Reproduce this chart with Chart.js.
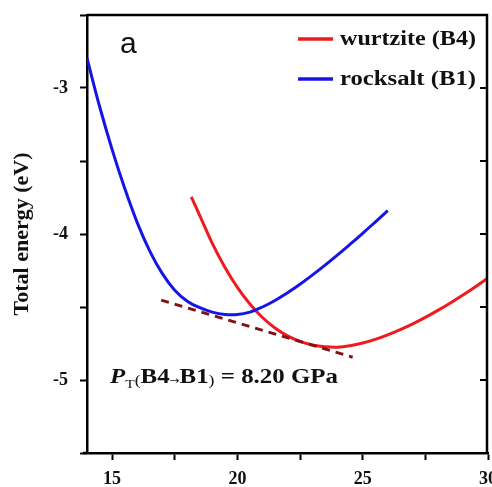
<!DOCTYPE html>
<html>
<head>
<meta charset="utf-8">
<script src="https://cdn.jsdelivr.net/npm/chart.js@4.4.1/dist/chart.umd.min.js"></script>
<style>
  html, body { margin: 0; padding: 0; background: #ffffff; }
  #wrap { width: 492px; height: 487px; position: relative; }
</style>
</head>
<body>
<div id="wrap"><canvas id="chart"></canvas></div>
<script>
// Volume (x) and total energy (eV) of the two phases
const wurtziteV = [18.16, 18.5, 19.0, 19.5, 20.0, 20.5, 21.0, 21.5, 22.0, 22.5, 23.0, 23.5, 24.0, 24.5, 25.0, 25.5, 26.0, 26.5, 27.0, 27.5, 28.0, 28.5, 29.0, 29.5, 30.0];
const wurtziteE = [-3.745, -3.874, -4.064, -4.228, -4.366, -4.48, -4.572, -4.644, -4.698, -4.736, -4.76, -4.772, -4.775, -4.765, -4.747, -4.722, -4.691, -4.655, -4.615, -4.571, -4.523, -4.472, -4.418, -4.361, -4.301];

const rocksaltV = [14.0, 14.5, 15.0, 15.5, 16.0, 16.5, 17.0, 17.5, 18.0, 18.5, 19.0, 19.5, 20.0, 20.5, 21.0, 21.5, 22.0, 22.5, 23.0, 23.5, 24.0, 24.5, 25.0, 25.5, 26.0];
const rocksaltE = [-2.795, -3.125, -3.42, -3.685, -3.92, -4.115, -4.27, -4.385, -4.46, -4.505, -4.535, -4.551, -4.552, -4.535, -4.5, -4.455, -4.402, -4.344, -4.28, -4.213, -4.143, -4.07, -3.995, -3.918, -3.84];

// Common tangent: its slope is the transition pressure
const pressureGPa = 8.20;
const eVperA3toGPa = 160.2177;
const tangentMidV = 20.78;
const tangentMidE = -4.6485;
const tangentHalfSpan = 3.82;
const tangentSlope = -pressureGPa / eVperA3toGPa;
const tangentV = [tangentMidV - tangentHalfSpan, tangentMidV + tangentHalfSpan];
const tangentE = tangentV.map(v => tangentMidE + tangentSlope * (v - tangentMidV));

const xTickMajor = [15, 20, 25, 30];
const yTickMajor = [-5, -4, -3];

const seriesLabels = ['wurtzite (B4)', 'rocksalt (B1)'];
const panelLabel = 'a';

const SERIF = '"Liberation Serif", "Times New Roman", serif';
const SANS = '"Liberation Sans", Arial, sans-serif';
const RED = 'rgb(238, 26, 32)';
const BLUE = 'rgb(22, 22, 228)';
const DARKRED = 'rgb(128, 18, 22)';

const toPoints = (xs, ys) => xs.map((x, i) => ({ x: x, y: ys[i] }));

function stretchText(ctx, str, x, y, sx) {
  ctx.save();
  ctx.translate(x, y);
  ctx.scale(sx, 1);
  ctx.fillText(str, 0, 0);
  ctx.restore();
}

// Closed frame with inward ticks on the right side
const framePlugin = {
  id: 'framePlugin',
  afterDraw(chart) {
    const { ctx, chartArea: a, scales } = chart;
    ctx.save();
    ctx.strokeStyle = '#000';
    ctx.lineWidth = 2.5;
    ctx.beginPath();
    ctx.moveTo(a.left, a.top);
    ctx.lineTo(a.right - 1, a.top);
    ctx.lineTo(a.right - 1, a.bottom);
    ctx.stroke();
    ctx.beginPath();
    ctx.moveTo(a.left - 4, a.bottom);
    ctx.lineTo(a.left, a.bottom);
    ctx.stroke();
    ctx.lineWidth = 2;
    scales.y.ticks.forEach(t => {
      const py = Math.round(scales.y.getPixelForValue(t.value));
      if (py <= a.top + 2 || py >= a.bottom - 2) return;
      ctx.beginPath();
      ctx.moveTo(a.right - 8, py);
      ctx.lineTo(a.right, py);
      ctx.stroke();
    });
    ctx.restore();
  }
};

// Legend in the upper right corner, built from the datasets
const legendPlugin = {
  id: 'cornerLegend',
  afterDraw(chart) {
    const { ctx, chartArea: a } = chart;
    const items = chart.data.datasets.filter(d => d.inLegend);
    ctx.save();
    ctx.font = 'bold 20px ' + SERIF;
    ctx.textBaseline = 'alphabetic';
    ctx.fillStyle = '#111';
    items.forEach((d, i) => {
      const lineY = a.top + 24 + i * 40;
      ctx.strokeStyle = d.borderColor;
      ctx.lineWidth = 3.5;
      ctx.beginPath();
      ctx.moveTo(a.right - 190, lineY);
      ctx.lineTo(a.right - 155, lineY);
      ctx.stroke();
      const w = ctx.measureText(d.label).width;
      stretchText(ctx, d.label, a.right - 148, lineY + 6, 136 / w);
    });
    ctx.restore();
  }
};

// Panel letter and transition-pressure note
const notesPlugin = {
  id: 'notes',
  afterDraw(chart) {
    const { ctx, chartArea: a } = chart;
    ctx.save();
    ctx.fillStyle = '#111';
    ctx.textBaseline = 'alphabetic';
    ctx.font = '30px ' + SANS;
    ctx.fillText(panelLabel, a.left + 33, a.top + 38);

    const runs = [
      { t: 'P', f: 'italic bold 21px ' + SERIF, dy: 0 },
      { t: 'T', f: '13px ' + SERIF, dy: 5 },
      { t: '(', f: '15px ' + SERIF, dy: 2 },
      { t: 'B4', f: 'bold 21px ' + SERIF, dy: 0 },
      { t: '→', f: '10px "DejaVu Sans"', dy: 1 },
      { t: 'B1', f: 'bold 21px ' + SERIF, dy: 0 },
      { t: ')', f: '15px ' + SERIF, dy: 2 },
      { t: ' = ' + pressureGPa.toFixed(2) + ' GPa', f: 'bold 21px ' + SERIF, dy: 0 }
    ];
    let natural = 0;
    runs.forEach(r => { ctx.font = r.f; r.w = ctx.measureText(r.t).width; natural += r.w; });
    const sx = 228 / natural;
    let x = a.left + 23;
    const base = 383;
    runs.forEach(r => {
      ctx.font = r.f;
      stretchText(ctx, r.t, x, base + r.dy, sx);
      x += r.w * sx;
    });
    ctx.restore();
  }
};

new Chart(document.getElementById('chart'), {
  type: 'scatter',
  data: {
    datasets: [
      {
        label: seriesLabels[0],
        inLegend: true,
        data: toPoints(wurtziteV, wurtziteE),
        showLine: true,
        borderColor: RED,
        borderWidth: 3,
        pointRadius: 0,
        tension: 0.4,
        order: 2
      },
      {
        label: seriesLabels[1],
        inLegend: true,
        data: toPoints(rocksaltV, rocksaltE),
        showLine: true,
        borderColor: BLUE,
        borderWidth: 3,
        pointRadius: 0,
        tension: 0.4,
        order: 1
      },
      {
        label: 'common tangent',
        inLegend: false,
        data: toPoints(tangentV, tangentE),
        showLine: true,
        borderColor: DARKRED,
        borderWidth: 3,
        borderDash: [8, 6],
        pointRadius: 0,
        order: 0
      }
    ]
  },
  options: {
    responsive: true,
    maintainAspectRatio: false,
    devicePixelRatio: 1,
    animation: false,
    layout: { padding: { top: 15, right: 4, left: 0, bottom: 0 } },
    plugins: {
      legend: { display: false },
      tooltip: { enabled: false }
    },
    scales: {
      x: {
        type: 'linear',
        min: 14,
        max: 30,
        border: { display: true, color: '#000', width: 2.5 },
        grid: { display: true, drawOnChartArea: false, drawTicks: true, tickLength: 7, tickWidth: 2, tickColor: '#000' },
        ticks: {
          stepSize: 2.5,
          includeBounds: false,
          autoSkip: false,
          maxRotation: 0,
          padding: 9,
          color: '#111',
          font: { family: SERIF, size: 18, weight: 'bold' },
          callback: v => (xTickMajor.includes(v) ? String(v) : '')
        },
        afterFit: s => { s.height = 34; s.paddingLeft = 0; s.paddingRight = 0; }
      },
      y: {
        type: 'linear',
        min: -5.5,
        max: -2.5,
        border: { display: true, color: '#000', width: 2.5 },
        grid: { display: true, drawOnChartArea: false, drawTicks: true, tickLength: 7, tickWidth: 2, tickColor: '#000' },
        ticks: {
          stepSize: 0.5,
          autoSkip: false,
          padding: 12,
          color: '#111',
          font: { family: SERIF, size: 18, weight: 'bold' },
          callback: v => (yTickMajor.includes(v) ? String(v) : '')
        },
        title: {
          display: true,
          text: 'Total energy (eV)',
          color: '#111',
          font: { family: SERIF, size: 22, weight: 'bold' },
          padding: { top: 9, bottom: 0 }
        },
        afterFit: s => { s.width = 87; s.paddingTop = 0; s.paddingBottom = 0; }
      }
    }
  },
  plugins: [framePlugin, legendPlugin, notesPlugin]
});
</script>
</body>
</html>
